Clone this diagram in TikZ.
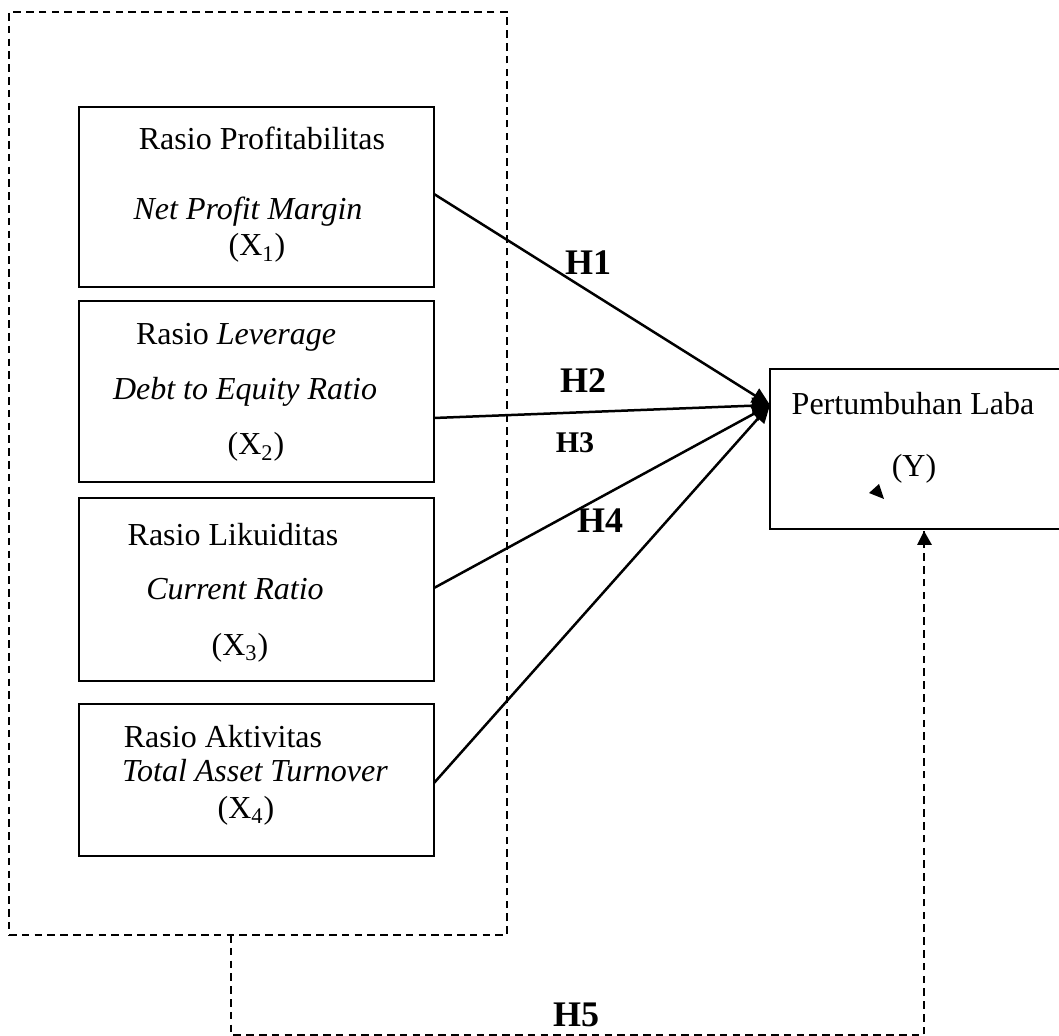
\documentclass[tikz,border=0pt]{standalone}
\usepackage{fontspec}
\setmainfont{Liberation Serif}
\usetikzlibrary{arrows.meta}
\begin{document}
\begin{tikzpicture}[x=0.5pt,y=-0.5pt,
  box/.style={draw,line width=0.8pt,inner sep=0pt,outer sep=0pt},
  grpbox/.style={draw,line width=0.8pt,dash pattern=on 3.8pt off 2.6pt,inner sep=0pt,outer sep=0pt},
  txt/.style={inner sep=0pt,anchor=base,font=\fontsize{16}{19}\selectfont},
  hlab/.style={inner sep=0pt,anchor=base,font=\fontsize{18}{21}\selectfont\bfseries},
  hsmall/.style={inner sep=0pt,anchor=base,font=\fontsize{15}{18}\selectfont\bfseries},
  conn/.style={line width=1.25pt,-{Triangle[length=9pt,width=8pt]}},
  dconn/.style={line width=0.8pt,dash pattern=on 3.8pt off 2.6pt}]
\useasboundingbox (0,0) rectangle (1059,1036);
% outer dashed group
\node[grpbox,minimum width=249pt,minimum height=461.5pt] (grp) at (258,473.5) {};
% boxes
\node[box,minimum width=177.5pt,minimum height=90pt] (b1) at (256.5,197) {};
\node[box,minimum width=177.5pt,minimum height=90.5pt] (b2) at (256.5,391.5) {};
\node[box,minimum width=177.5pt,minimum height=91.5pt] (b3) at (256.5,589.5) {};
\node[box,minimum width=177.5pt,minimum height=76pt] (b4) at (256.5,780) {};
\node[box,minimum width=147.5pt,minimum height=80pt] (y) at (917.5,449) {};
% texts
\node[txt] (t1a) at (262,150) {Rasio Profitabilitas};
\node[txt] (t1b) at (248,220) {\itshape Net Profit Margin};
\node[txt] (t1c) at (257,256) {(X\textsubscript{1})};
\node[txt] (t2a) at (236,345) {Rasio \textit{Leverage}};
\node[txt] (t2b) at (245,400) {\itshape Debt to Equity Ratio};
\node[txt] (t2c) at (256,455) {(X\textsubscript{2})};
\node[txt] (t3a) at (233,546) {Rasio Likuiditas};
\node[txt] (t3b) at (235,600) {\itshape Current Ratio};
\node[txt] (t3c) at (240,655) {(X\textsubscript{3})};
\node[txt] (t4a) at (223,747) {Rasio Aktivitas};
\node[txt] (t4b) at (255,781) {\itshape Total Asset Turnover};
\node[txt] (t4c) at (246,818) {(X\textsubscript{4})};
\node[txt] (tya) at (913,415) {Pertumbuhan Laba};
\node[txt] (tyb) at (914,477) {(Y)};
% labels
\node[hlab] (h1) at (588,275) {H1};
\node[hlab] (h2) at (583,393) {H2};
\node[hsmall] (h3) at (575,453) {H3};
\node[hlab] (h4) at (600,533) {H4};
\node[hlab] (h5) at (576,1026) {H5};
% connector points
\coordinate (s1) at (434,194);
\coordinate (s2) at (434,418);
\coordinate (s3) at (434,588);
\coordinate (s4) at (434,783);
\coordinate (tgt) at (770,405);
\draw[conn] (s1) -- (tgt);
\draw[conn] (s2) -- (tgt);
\draw[conn] (s3) -- (tgt);
\draw[conn] (s4) -- (tgt);
% small stray arrowhead
\fill (869,493) -- (879,484) -- (884,499) -- cycle;
% H5 dashed connector
\coordinate (g5) at (231,935);
\coordinate (c5) at (231,1035);
\coordinate (e5) at (924,531);
\draw[dconn] (g5) -- (c5) -| (e5);
\fill (924,531) -- (917,545) -- (932,545) -- cycle;
\end{tikzpicture}
\end{document}
